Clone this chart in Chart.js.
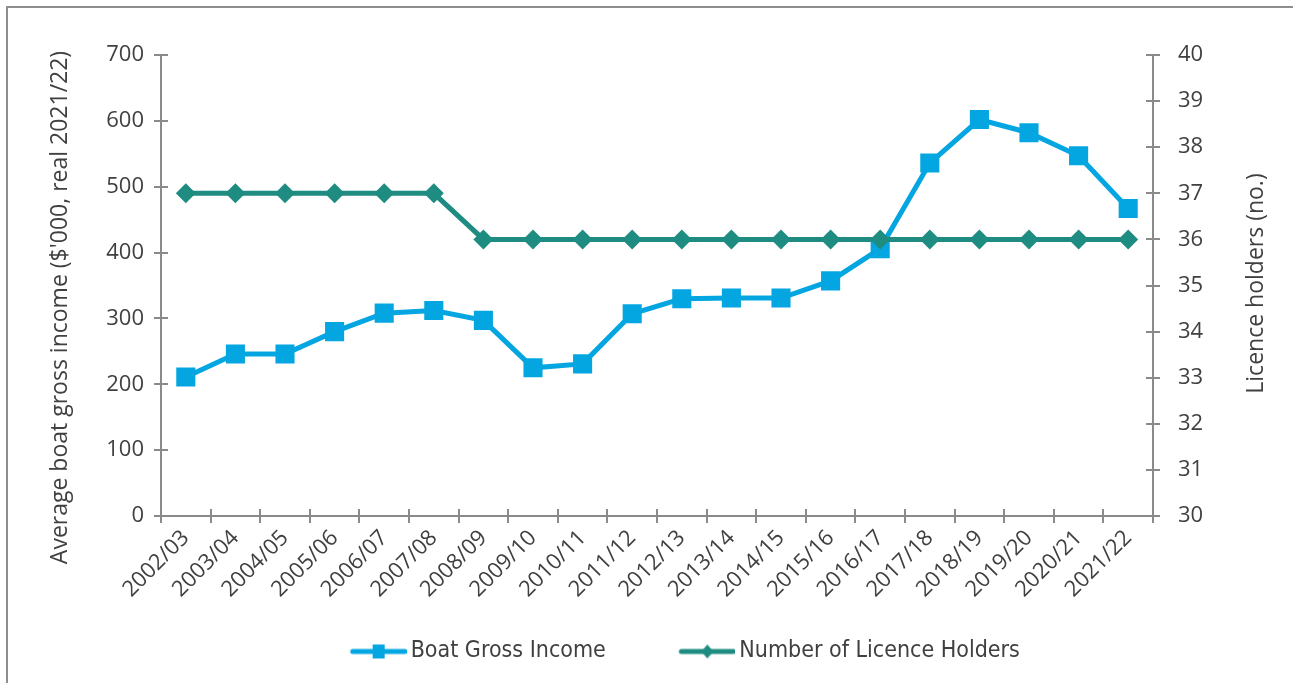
<!DOCTYPE html>
<html>
<head>
<meta charset="utf-8">
<script src="https://cdn.jsdelivr.net/npm/chart.js@4.4.1/dist/chart.umd.min.js"></script>
<style>
  html, body { margin: 0; padding: 0; background: #ffffff; overflow: hidden; }
  #frame { position: absolute; left: 6px; top: 6px; width: 1400px; height: 900px;
           border-top: 2px solid #8e8e8e; border-left: 2px solid #8e8e8e; }
  #c { position: absolute; left: 0; top: 0; }
</style>
</head>
<body>
<div id="frame"></div>
<canvas id="c" width="1293" height="683"></canvas>
<script>
// ---- data ----
const categories = ['2002/03','2003/04','2004/05','2005/06','2006/07','2007/08','2008/09','2009/10','2010/11','2011/12',
                    '2012/13','2013/14','2014/15','2015/16','2016/17','2017/18','2018/19','2019/20','2020/21','2021/22'];
const boatGrossIncome = [211, 246, 246, 280, 308, 312, 297, 225, 231, 307,
                         330, 331, 331, 357, 406, 536, 602, 582, 547, 467];
const licenceHolders  = [37, 37, 37, 37, 37, 37, 36, 36, 36, 36,
                         36, 36, 36, 36, 36, 36, 36, 36, 36, 36];
const incomeTicks  = [0, 100, 200, 300, 400, 500, 600, 700];
const holderTicks  = [30, 31, 32, 33, 34, 35, 36, 37, 38, 39, 40];
const seriesNames  = ['Boat Gross Income', 'Number of Licence Holders'];
const axisTitles   = ["Average boat gross income ($'000, real 2021/22)", 'Licence holders (no.)'];

// ---- styles ----
const BLUE = '#03A6E1';
const TEAL = '#1F8C82';
const AXIS = '#8a8a8a';
const TEXT = '#404040';
const TICK_FONT = { family: '"Open Sans", "Noto Sans", sans-serif', size: 22 };
const LEGEND_FONT = { family: '"DejaVu Sans Condensed", "DejaVu Sans", sans-serif', size: 23 };
const BOXW = 100;

function legendIcon(color, kind) {
  const c = document.createElement('canvas');
  c.width = BOXW + 15; c.height = 24;
  const g = c.getContext('2d');
  const x0 = c.width - 56, cy = 12, cx = c.width - 28;
  g.strokeStyle = color; g.lineWidth = 5; g.lineCap = 'round';
  g.beginPath(); g.moveTo(x0 + 2, cy); g.lineTo(c.width - 2, cy); g.stroke();
  g.fillStyle = color;
  if (kind === 'square') {
    g.fillRect(cx - 6, cy - 7, 12, 14);
  } else {
    g.beginPath(); g.moveTo(cx, cy - 7); g.lineTo(cx + 6, cy); g.lineTo(cx, cy + 7); g.lineTo(cx - 6, cy); g.closePath(); g.fill();
  }
  return c;
}
const icons = [legendIcon(BLUE, 'square'), legendIcon(TEAL, 'diamond')];

const innerTicks = {
  id: 'innerTicks',
  beforeDatasetsDraw(chart) {
    const ctx = chart.ctx;
    const { x, y, y1 } = chart.scales;
    ctx.save();
    ctx.strokeStyle = AXIS; ctx.lineWidth = 2;
    ctx.beginPath();
    y.ticks.forEach(t => { const p = Math.round(y.getPixelForValue(t.value)); ctx.moveTo(y.right, p); ctx.lineTo(y.right + 7, p); });
    y1.ticks.forEach(t => { const p = Math.round(y1.getPixelForValue(t.value)); ctx.moveTo(y1.left, p); ctx.lineTo(y1.left - 7, p); });
    for (let i = 0; i <= categories.length; i++) {
      const p = Math.round(x.getPixelForValue(i - 0.5));
      ctx.moveTo(p, x.top); ctx.lineTo(p, x.top - 7);
    }
    ctx.stroke();
    ctx.restore();
  }
};

const axisTitlePlugin = {
  id: 'axisTitlePlugin',
  afterDraw(chart) {
    const ctx = chart.ctx;
    const a = chart.chartArea;
    const mid = (a.top + a.bottom) / 2;
    ctx.save();
    ctx.fillStyle = TEXT;
    ctx.font = '23px "Open Sans", "Noto Sans", sans-serif';
    ctx.textAlign = 'center'; ctx.textBaseline = 'middle';
    [[a.left - 101, mid + 22, axisTitles[0]], [a.right + 103, mid - 2, axisTitles[1]]].forEach(([tx, ty, s]) => {
      ctx.save(); ctx.translate(tx, ty); ctx.rotate(-Math.PI / 2); ctx.fillText(s, 0, 0); ctx.restore();
    });
    ctx.restore();
  }
};

new Chart(document.getElementById('c'), {
  type: 'line',
  data: {
    labels: categories,
    datasets: [
      { label: seriesNames[0], data: boatGrossIncome, yAxisID: 'y', order: 1,
        borderColor: BLUE, backgroundColor: BLUE, borderWidth: 5, tension: 0,
        pointStyle: 'rect', pointRadius: 13.5, pointBorderWidth: 0, pointBackgroundColor: BLUE },
      { label: seriesNames[1], data: licenceHolders, yAxisID: 'y1', order: 0,
        borderColor: TEAL, backgroundColor: TEAL, borderWidth: 5, tension: 0,
        pointStyle: 'rectRot', pointRadius: 10, pointBorderWidth: 0, pointBackgroundColor: TEAL }
    ]
  },
  options: {
    responsive: false, animation: false, devicePixelRatio: 1,
    layout: { padding: { left: 26, right: 0, top: 55, bottom: 10 } },
    plugins: {
      tooltip: { enabled: false },
      legend: {
        position: 'bottom',
        labels: {
          usePointStyle: true, pointStyleWidth: BOXW, padding: 22,
          font: LEGEND_FONT, color: TEXT,
          sort: (a, b) => a.datasetIndex - b.datasetIndex,
          generateLabels(chart) {
            const items = Chart.defaults.plugins.legend.labels.generateLabels(chart);
            items.forEach(it => { it.pointStyle = icons[it.datasetIndex]; });
            return items;
          }
        }
      }
    },
    scales: {
      x: {
        type: 'category', offset: true,
        grid: { display: true, drawOnChartArea: false, drawTicks: true, tickLength: 7, color: AXIS, lineWidth: 2, offset: true },
        border: { display: true, color: AXIS, width: 2 },
        ticks: { autoSkip: false, maxRotation: 45, minRotation: 45, font: TICK_FONT, color: TEXT, padding: 2 },
        afterFit(s) { s.height = 102; }
      },
      y: {
        position: 'left', min: 0, max: 700,
        afterBuildTicks(s) { s.ticks = incomeTicks.map(v => ({ value: v })); },
        grid: { display: true, drawOnChartArea: false, drawTicks: true, tickLength: 7, color: AXIS, lineWidth: 2 },
        border: { display: true, color: AXIS, width: 2 },
        ticks: { font: TICK_FONT, color: TEXT, padding: 10 },
        afterFit(s) { s.width = 135; }
      },
      y1: {
        position: 'right', min: 30, max: 40,
        afterBuildTicks(s) { s.ticks = holderTicks.map(v => ({ value: v })); },
        grid: { display: true, drawOnChartArea: false, drawTicks: true, tickLength: 7, color: AXIS, lineWidth: 2 },
        border: { display: true, color: AXIS, width: 2 },
        ticks: { font: TICK_FONT, color: TEXT, padding: 18 },
        afterFit(s) { s.width = 140; }
      }
    }
  },
  plugins: [innerTicks, axisTitlePlugin]
});
</script>
</body>
</html>
